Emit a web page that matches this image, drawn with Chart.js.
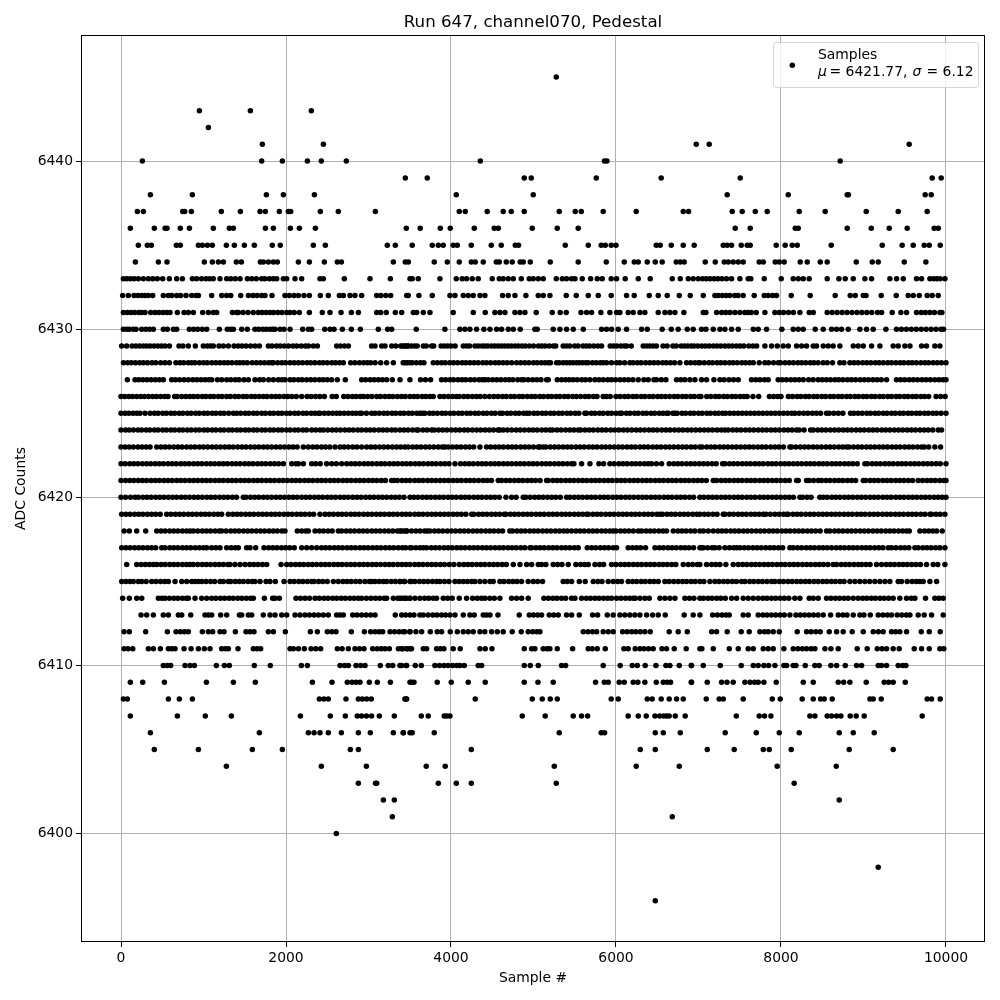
<!DOCTYPE html>
<html><head><meta charset="utf-8">
<script src="https://cdn.jsdelivr.net/npm/chart.js@4/dist/chart.umd.min.js"></script>
<style>html,body{margin:0;padding:0;background:#fff}canvas{display:block}</style>
</head><body><canvas id="c" width="1000" height="1000"></canvas>
<script>
const chartTitle="Run 647, channel070, Pedestal";
const xLabel="Sample #";
const yLabel="ADC Counts";
const seriesLabel="Samples";
const muText="6421.77";
const sigmaText="6.12";
const xTickValues=[0,2000,4000,6000,8000,10000];
const yTickValues=[6400,6410,6420,6430,6440];
const s6445=[5276];
const s6443=[950,1568,2307];
const s6442=[1059];
const s6441=[1713,2453,6973,7130,9554];
const s6440=[259,1705,1956,2259,2428,2731,4355,5860,5890,8718];
const s6439=[3446,3712,4888,4973,5761,6548,7506,9833,9942];
const s6438=[356,865,1762,1968,2344,4064,4997,7348,8088,8803,8818,9748,9821];
const s6437=[198,271,748,772,853,1216,1447,1685,1750,1919,2028,2057,2416,2634,3083,4100,4173,4439,4633,4730,4888,5312,5506,5579,5845,6245,6815,6880,7409,7530,7688,7833,8221,8536,9033,9421,9772];
const s6436=[113,404,534,558,719,829,1119,1313,1362,1750,1847,2053,2162,2356,3458,3627,3870,3991,4282,4524,4573,4985,5288,5542,7445,7627,8173,8209,8803,9094,9312,9530,9857,9906];
const s6435=[210,319,368,671,719,938,986,1047,1107,1277,1374,1495,1616,1834,1931,2331,2477,3228,3325,3530,3773,3846,3906,4027,4076,4246,4488,4609,4779,4819,5385,5664,5821,5870,5942,6000,6488,6536,6670,6815,6948,7300,7348,7401,7518,7591,7627,7942,8051,8136,8197,8609,9227,9469,9603,9736,9797,9930];
const s6434=[174,453,558,1010,1107,1180,1241,1398,1459,1689,1725,1786,1847,1895,2150,2283,2465,2622,2671,3301,3446,3483,3797,3955,4100,4246,4294,4391,4549,4585,4670,4742,4839,4876,4961,5203,5542,5882,6100,6221,6270,6379,6476,6560,6730,6779,6827,7082,7203,7312,7361,7421,7482,7542,7736,7785,7930,7979,8039,8233,8318,8476,8560,8912,9106,9179,9494,9756];
const s6433=[29,70,115,160,210,271,332,385,440,505,586,675,744,865,915,975,1030,1075,1119,1200,1281,1330,1385,1443,1531,1585,1640,1705,1745,1800,1847,1887,1968,2008,2109,2190,2412,2453,2707,3018,3265,3503,3530,3603,3866,4064,4136,4189,4258,4330,4500,4585,4633,4694,4755,4852,4949,4997,5058,5118,5276,5349,5401,5462,5502,5591,5692,5773,5833,5942,6007,6112,6270,6415,6682,6779,6876,6936,6997,7050,7095,7140,7190,7235,7285,7340,7401,7502,7603,7635,7797,8003,8148,8210,8270,8342,8560,8702,8779,8876,9017,9098,9320,9401,9482,9643,9704,9805,9850,9890,9930,9987];
const s6432=[20,89,158,205,250,291,332,384,513,574,614,675,723,788,857,909,938,1099,1220,1280,1330,1451,1544,1600,1650,1705,1745,1830,1988,2040,2097,2150,2218,2283,2416,2513,2647,2695,2776,2836,2917,3099,3150,3210,3269,3463,3482,3611,3773,3987,4048,4149,4209,4270,4351,4411,4625,4694,4775,4908,5058,5118,5199,5397,5518,5664,5785,5942,6128,6221,6403,6512,6621,6767,6900,7058,7199,7240,7290,7335,7380,7440,7480,7542,7676,7797,7846,7900,7946,8124,8354,8657,8839,8900,8997,9030,9215,9397,9542,9603,9676,9772,9833,9906];
const s6431=[29,75,120,165,215,250,291,360,412,460,510,555,594,683,764,816,877,990,1059,1119,1160,1350,1401,1422,1480,1540,1604,1665,1710,1760,1806,1847,1900,1950,2008,2049,2100,2162,2283,2440,2533,2667,2792,2877,3099,3148,3216,3325,3402,3543,3583,3664,3745,4027,4270,4415,4532,4593,4654,4775,4835,4896,5033,5227,5324,5397,5575,5643,5704,5817,5926,6007,6047,6148,6209,6290,6350,6512,6593,6653,6714,6823,7058,7090,7219,7280,7330,7381,7441,7500,7560,7600,7640,7700,7805,7926,7980,8030,8090,8150,8229,8342,8391,8560,8620,8680,8740,8800,8860,8920,8980,9040,9100,9170,9220,9348,9453,9522,9643,9700,9750,9805,9860,9926,9950];
const s6430=[29,69,101,150,182,251,300,345,392,513,562,635,675,828,880,930,985,1039,1192,1289,1330,1362,1463,1531,1624,1670,1720,1760,1806,1838,1867,1928,1975,2049,2202,2271,2311,2469,2533,2582,2683,2792,2901,3119,3232,3281,3579,3926,4108,4169,4229,4310,4399,4472,4553,4613,4694,4755,4839,5017,5045,5239,5320,5401,5482,5603,5825,5886,5946,6027,6128,6310,6379,6560,6670,6754,6864,6936,7037,7090,7179,7260,7320,7401,7482,7664,7724,7825,8011,8148,8209,8270,8415,8512,8613,8674,8734,8815,8956,9037,9118,9272,9400,9460,9520,9580,9640,9700,9760,9820,9880,9940,9970];
const s6429=[8,69,134,180,225,270,311,352,400,445,490,533,586,703,750,816,901,998,1045,1085,1119,1188,1240,1301,1370,1420,1465,1515,1570,1625,1677,1786,1830,1885,1930,1980,2030,2085,2130,2185,2235,2271,2331,2380,2614,2660,2710,2756,3038,3079,3160,3200,3281,3330,3390,3442,3475,3410,3445,3480,3520,3560,3590,3665,3700,3765,3790,3880,3920,3960,4000,4050,4149,4190,4225,4290,4330,4375,4410,4445,4490,4530,4570,4610,4650,4690,4730,4775,4815,4860,4900,4950,5000,5060,5100,5140,5190,5240,5270,5360,5400,5440,5500,5540,5600,5640,5680,5730,5780,5825,5930,5970,6010,6060,6100,6130,6185,6330,6370,6410,6450,6490,6570,6620,6690,6730,6790,6830,6870,6910,6945,6990,7040,7085,7130,7180,7225,7270,7320,7365,7410,7460,7505,7550,7610,7660,7705,7805,7886,7955,8027,8088,8189,8250,8310,8391,8431,8512,8573,8633,8714,8876,8936,8997,9098,9199,9360,9421,9502,9563,9704,9764,9865,9926];
const s6428=[30,80,125,175,225,270,320,375,420,480,533,586,665,715,760,815,857,897,950,1000,1045,1100,1150,1200,1250,1295,1345,1400,1440,1483,1530,1590,1640,1690,1740,1790,1826,1847,1900,1950,1995,2050,2100,2150,2200,2255,2300,2350,2405,2450,2500,2555,2600,2650,2695,2784,2835,2890,2940,2985,3026,3080,3148,3220,3301,3443,3503,3421,3470,3530,3580,3630,3672,3785,3835,3885,3930,3985,4030,4080,4135,4180,4230,4280,4330,4385,4430,4480,4535,4580,4630,4680,4735,4795,4845,4895,4945,5000,5045,5095,5140,5180,5207,5280,5312,5360,5401,5441,5480,5522,5555,5595,5635,5664,5715,5760,5810,5845,5886,5945,6007,6047,6105,6168,6209,6260,6305,6360,6410,6460,6510,6565,6610,6660,6710,6775,6855,6905,6957,7000,7017,7070,7125,7170,7225,7270,7320,7375,7420,7470,7525,7570,7620,7664,7736,7805,7850,7910,7966,7995,8050,8100,8150,8205,8250,8300,8355,8400,8450,8510,8560,8625,8714,8763,8835,8885,8935,8990,9040,9090,9145,9190,9240,9295,9340,9393,9445,9490,9545,9590,9640,9695,9745,9790,9845,9895,9945,10000];
const s6427=[77,170,215,265,315,365,415,465,513,614,660,710,764,816,870,920,970,1020,1065,1099,1168,1220,1281,1330,1385,1430,1490,1544,1624,1680,1725,1790,1847,1907,1950,1988,2049,2095,2150,2195,2250,2300,2350,2405,2450,2500,2553,2622,2719,2917,2965,3020,3070,3120,3170,3220,3289,3382,3502,3631,3690,3753,3886,3935,3987,4030,4085,4135,4180,4235,4285,4340,4380,4411,4452,4505,4555,4605,4660,4705,4750,4810,4856,4884,4935,4990,5040,5090,5159,5179,5288,5340,5389,5433,5480,5530,5585,5630,5684,5745,5795,5845,5900,5945,5995,6050,6100,6150,6205,6270,6338,6391,6460,6492,6550,6605,6734,6785,6835,6896,6957,7037,7098,7187,7260,7310,7370,7425,7482,7643,7695,7745,7800,7845,7966,8015,8065,8120,8170,8220,8270,8335,8390,8451,8500,8550,8600,8655,8700,8750,8805,8855,8905,8960,9010,9060,9115,9165,9215,9280,9400,9450,9500,9555,9605,9655,9710,9760,9810,9865,9915,9965,10000];
const s6426=[0,45,95,140,190,240,285,335,385,430,480,530,570,650,680,735,785,835,880,930,985,1030,1080,1125,1180,1225,1280,1325,1380,1425,1480,1525,1580,1625,1675,1725,1770,1825,1875,1920,1975,2020,2070,2125,2190,2255,2305,2360,2410,2465,2560,2610,2700,2750,2805,2850,2900,2940,2990,3040,3100,3145,3200,3250,3295,3350,3400,3445,3500,3550,3595,3650,3695,3745,3785,3866,3915,3970,4020,4065,4100,4155,4205,4260,4310,4355,4410,4465,4520,4570,4625,4670,4725,4770,4825,4870,4925,4975,5020,5075,5120,5175,5220,5275,5320,5375,5420,5475,5520,5570,5625,5670,5725,5770,5845,5886,5930,6000,6050,6105,6150,6205,6250,6305,6350,6405,6450,6505,6550,6600,6650,6705,6750,6805,6850,6905,6950,7005,7030,7100,7150,7205,7250,7305,7350,7405,7450,7505,7550,7590,7660,7730,7860,7910,7960,8000,8090,8140,8195,8240,8295,8340,8395,8440,8495,8540,8595,8640,8695,8740,8795,8840,8895,8940,8995,9040,9095,9140,9195,9240,9295,9340,9395,9440,9495,9540,9595,9640,9695,9740,9790,9880,9935,9990];
const s6425=[0,50,95,145,190,230,291,352,405,450,505,550,605,650,705,750,805,850,905,950,1005,1050,1105,1150,1205,1250,1305,1362,1402,1450,1505,1550,1605,1650,1705,1750,1805,1850,1905,1950,2005,2050,2105,2150,2205,2250,2305,2350,2392,2412,2465,2515,2565,2614,2655,2705,2755,2805,2850,2897,2917,2975,3038,3079,3130,3185,3230,3285,3330,3385,3430,3485,3530,3585,3623,3656,3684,3740,3785,3835,3890,3935,3990,4035,4090,4135,4190,4235,4290,4335,4390,4435,4490,4535,4593,4625,4680,4725,4780,4825,4880,4917,4949,5005,5050,5105,5150,5205,5250,5305,5350,5405,5450,5505,5550,5623,5643,5700,5745,5800,5845,5900,5945,6000,6047,6068,6125,6170,6225,6270,6325,6370,6425,6470,6525,6570,6613,6633,6690,6714,6742,6800,6845,6900,6945,7000,7045,7100,7145,7200,7245,7292,7330,7380,7430,7480,7530,7580,7630,7680,7730,7780,7830,7880,7930,7980,8030,8080,8130,8168,8221,8275,8325,8380,8430,8480,8552,8585,8640,8695,8750,8843,8884,8935,8985,9040,9085,9140,9185,9240,9285,9340,9385,9440,9485,9540,9585,9640,9685,9740,9785,9840,9885,9940,10000];
const s6424=[0,55,100,150,205,250,305,350,405,450,505,550,605,650,705,750,805,850,905,950,1005,1050,1105,1150,1205,1250,1305,1350,1405,1450,1505,1550,1605,1650,1705,1750,1805,1850,1905,1950,2005,2050,2105,2150,2205,2250,2311,2360,2412,2453,2505,2560,2610,2660,2715,2765,2815,2870,2915,2970,3020,3070,3125,3175,3225,3280,3325,3380,3430,3480,3535,3583,3603,3660,3710,3765,3797,3850,3900,3950,4005,4055,4105,4160,4205,4260,4310,4360,4415,4465,4515,4570,4593,4633,4685,4735,4790,4840,4890,4945,4995,5045,5100,5150,5199,5231,5285,5335,5390,5440,5490,5542,5571,5625,5675,5725,5780,5830,5880,5935,5985,6035,6090,6140,6190,6245,6295,6345,6400,6450,6500,6555,6605,6655,6710,6760,6810,6865,6915,6965,7017,7070,7120,7170,7225,7275,7320,7361,7415,7465,7515,7570,7620,7670,7725,7775,7825,7880,7930,7980,8035,8085,8135,8189,8221,8280,8359,8391,8445,8495,8545,8600,8650,8700,8755,8805,8855,8910,8960,9010,9065,9115,9165,9220,9270,9320,9375,9425,9475,9530,9580,9630,9685,9735,9785,9840,9906,9946];
const s6423=[0,50,100,150,205,255,305,352,433,485,535,585,640,690,740,795,845,895,950,1000,1050,1105,1155,1205,1260,1310,1360,1415,1465,1515,1570,1620,1670,1725,1775,1825,1880,1930,1980,2035,2085,2135,2210,2271,2325,2375,2430,2480,2530,2594,2655,2705,2755,2810,2860,2917,2978,3030,3080,3135,3185,3235,3290,3340,3390,3441,3482,3535,3585,3635,3690,3740,3790,3845,3895,3926,3967,4020,4070,4120,4175,4225,4275,4351,4431,4480,4535,4585,4635,4690,4740,4790,4845,4895,4945,5000,5058,5078,5118,5151,5205,5255,5305,5360,5410,5460,5515,5565,5615,5670,5720,5770,5825,5875,5925,5980,6030,6080,6135,6185,6235,6290,6340,6390,6445,6495,6545,6600,6650,6700,6755,6805,6855,6910,6960,7017,7045,7100,7150,7200,7255,7305,7355,7410,7460,7510,7565,7615,7665,7720,7770,7820,7875,7925,7975,8030,8108,8128,8180,8235,8285,8335,8390,8440,8490,8545,8595,8645,8700,8750,8795,8827,8880,8930,8980,9035,9085,9135,9190,9240,9290,9345,9395,9445,9500,9550,9600,9655,9704,9736,9790,9865,9934];
const s6422=[0,50,105,155,205,260,310,360,415,465,515,570,620,670,725,775,825,880,930,980,1035,1085,1135,1190,1240,1290,1345,1395,1445,1500,1550,1600,1655,1705,1755,1810,1860,1910,1968,2069,2120,2150,2210,2311,2360,2415,2493,2554,2610,2675,2736,2790,2840,2890,2945,2995,3045,3100,3150,3200,3255,3305,3355,3410,3460,3510,3565,3615,3665,3720,3770,3820,3875,3925,3975,4048,4116,4170,4220,4270,4325,4375,4425,4480,4530,4580,4635,4685,4735,4790,4840,4890,4945,4995,5045,5100,5150,5200,5255,5305,5355,5410,5462,5490,5583,5684,5793,5850,5926,5979,6035,6085,6135,6190,6240,6290,6345,6391,6431,6490,6553,6645,6700,6750,6800,6855,6905,6955,7010,7060,7110,7165,7215,7292,7320,7375,7425,7475,7530,7580,7630,7685,7735,7785,7840,7890,7940,7995,8045,8095,8150,8200,8250,8305,8355,8405,8460,8510,8560,8615,8665,8715,8770,8820,8870,8925,9017,9049,9105,9155,9205,9260,9310,9360,9415,9465,9515,9570,9620,9670,9725,9775,9825,9880,9930,10000];
const s6421=[0,55,105,155,210,260,310,365,415,465,520,570,620,675,725,775,830,880,930,985,1035,1085,1140,1190,1240,1295,1345,1395,1450,1500,1550,1605,1655,1705,1760,1810,1860,1915,1965,2015,2070,2120,2170,2225,2275,2325,2380,2430,2480,2535,2585,2635,2690,2740,2790,2845,2895,2945,3000,3050,3100,3155,3205,3280,3310,3350,3405,3455,3503,3560,3610,3660,3715,3765,3815,3870,3920,3970,4025,4075,4125,4180,4230,4280,4335,4391,4439,4490,4573,4613,4665,4715,4770,4820,4870,4925,4975,5025,5080,5159,5179,5235,5285,5335,5390,5440,5490,5545,5595,5645,5700,5750,5800,5855,5905,5955,6010,6060,6110,6165,6215,6265,6320,6370,6420,6475,6525,6575,6630,6680,6730,6785,6835,6885,6940,6990,7040,7095,7179,7219,7275,7325,7375,7430,7480,7530,7585,7635,7685,7740,7790,7840,7895,7945,7995,8050,8100,8189,8209,8310,8342,8395,8451,8492,8545,8595,8650,8700,8750,8805,8855,8905,8997,9025,9080,9130,9180,9235,9285,9335,9390,9440,9490,9545,9595,9663,9716,9770,9820,9870,9925,9975,10000];
const s6420=[0,55,115,170,210,265,315,365,420,470,520,575,625,675,730,780,830,885,935,985,1040,1090,1140,1195,1245,1295,1350,1400,1483,1515,1570,1620,1670,1725,1775,1825,1880,1930,1980,2035,2085,2135,2190,2240,2290,2345,2395,2445,2500,2550,2600,2655,2705,2755,2810,2860,2910,2965,3015,3065,3120,3170,3220,3275,3325,3375,3430,3503,3550,3600,3655,3705,3755,3810,3860,3910,3965,4015,4065,4120,4170,4220,4275,4325,4375,4430,4480,4530,4585,4666,4734,4790,4876,4908,4960,5015,5065,5115,5170,5220,5270,5325,5401,5441,5495,5545,5595,5650,5700,5750,5805,5855,5905,5960,6010,6060,6115,6165,6215,6270,6320,6370,6425,6475,6525,6580,6630,6680,6735,6785,6835,6890,6940,7017,7065,7120,7170,7220,7275,7325,7375,7430,7480,7530,7585,7635,7685,7740,7790,7840,7895,7945,7995,8050,8100,8150,8229,8261,8315,8365,8471,8512,8560,8615,8665,8715,8770,8820,8870,8925,8975,9025,9080,9130,9180,9235,9285,9335,9390,9440,9490,9545,9595,9645,9700,9750,9800,9855,9905,9955,10000];
const s6419=[8,60,110,165,215,265,320,370,420,475,553,606,660,710,760,815,865,915,970,1020,1070,1125,1175,1220,1301,1355,1405,1455,1510,1560,1610,1665,1715,1765,1820,1870,1920,1975,2025,2075,2130,2180,2230,2285,2335,2412,2473,2525,2575,2630,2680,2730,2785,2835,2885,2940,2990,3040,3095,3145,3195,3250,3300,3350,3405,3455,3503,3560,3610,3660,3715,3765,3815,3870,3920,3970,4025,4075,4125,4180,4250,4278,4335,4385,4435,4490,4540,4590,4646,4666,4720,4770,4820,4875,4925,4975,5030,5080,5130,5185,5235,5285,5340,5390,5440,5495,5545,5595,5643,5664,5720,5770,5820,5875,5925,5975,6030,6080,6130,6185,6235,6285,6340,6390,6440,6495,6532,6564,6620,6670,6720,6775,6825,6875,6930,6980,7017,7070,7120,7175,7225,7300,7320,7375,7425,7480,7530,7580,7635,7685,7735,7785,7817,7870,7926,7979,8030,8068,8088,8145,8195,8245,8300,8350,8400,8455,8505,8555,8610,8660,8710,8765,8815,8865,8920,8970,9020,9075,9125,9175,9230,9280,9330,9385,9435,9485,9540,9590,9640,9695,9745,9805,9825,9880,9930,9987];
const s6418=[38,101,190,299,433,485,535,590,640,690,745,795,837,877,930,985,1035,1085,1140,1190,1220,1273,1330,1380,1430,1485,1535,1585,1640,1690,1740,1795,1845,1895,1950,1988,2137,2190,2240,2271,2352,2405,2455,2510,2560,2634,2675,2730,2780,2830,2885,2935,2985,3040,3090,3140,3195,3245,3295,3350,3400,3463,3381,3430,3462,3522,3575,3625,3680,3712,3745,3800,3850,3900,3955,4005,4055,4110,4160,4210,4265,4315,4365,4420,4470,4520,4575,4625,4714,4746,4800,4850,4900,4955,5005,5055,5110,5160,5210,5265,5315,5365,5409,5462,5515,5565,5615,5670,5720,5770,5825,5875,5926,5966,5999,6055,6105,6155,6210,6270,6310,6365,6415,6465,6520,6570,6613,6694,6750,6800,6850,6905,6955,7017,7060,7118,7179,7235,7285,7335,7390,7440,7490,7545,7595,7645,7700,7750,7800,7855,7905,7955,8010,8060,8110,8165,8215,8265,8320,8370,8420,8475,8552,8593,8650,8700,8750,8805,8855,8905,8960,9010,9060,9115,9165,9215,9270,9320,9370,9425,9475,9522,9555,9684,9740,9790,9840,9886,9954];
const s6417=[8,60,110,165,215,265,320,370,420,493,533,590,640,690,745,796,845,900,950,1000,1039,1099,1150,1200,1281,1335,1385,1422,1523,1564,1632,1733,1790,1840,1890,1945,1995,2045,2100,2190,2251,2311,2372,2430,2480,2530,2585,2635,2685,2740,2790,2840,2895,2945,2995,3050,3100,3150,3205,3255,3305,3360,3410,3450,3503,3522,3575,3625,3664,3704,3760,3810,3860,3915,3965,4015,4070,4120,4170,4225,4275,4325,4380,4430,4480,4535,4585,4635,4690,4740,4790,4845,4895,4957,4977,5030,5080,5130,5185,5235,5285,5340,5390,5440,5495,5542,5652,5705,5755,5810,5860,5910,5966,6007,6148,6200,6250,6298,6358,6472,6525,6575,6630,6680,6730,6785,6835,6885,6940,7017,7037,7058,7110,7165,7199,7251,7320,7375,7425,7462,7502,7555,7605,7660,7710,7760,7815,7865,7915,7970,8020,8108,8148,8200,8250,8305,8355,8405,8460,8510,8560,8613,8670,8720,8770,8825,8875,8925,8980,9030,9080,9135,9185,9235,9300,9340,9393,9450,9500,9550,9623,9663,9720,9770,9820,9875,9925,9987];
const s6416=[69,190,245,295,345,392,433,485,535,590,640,690,745,795,837,877,930,985,1035,1085,1140,1190,1240,1295,1322,1382,1443,1503,1560,1610,1660,1715,1766,1940,2008,2060,2115,2165,2215,2270,2320,2370,2425,2475,2525,2580,2630,2680,2735,2785,2835,2890,2940,2990,3045,3095,3145,3200,3250,3300,3355,3405,3455,3503,3560,3610,3660,3715,3765,3815,3870,3920,3979,4035,4100,4155,4205,4255,4310,4360,4410,4465,4515,4565,4620,4670,4755,4836,4917,4977,5058,5098,5150,5239,5292,5345,5421,5514,5570,5620,5664,5745,5800,5850,5946,5999,6055,6105,6155,6210,6260,6310,6365,6415,6465,6520,6570,6620,6675,6725,6815,6876,6930,6985,7017,7098,7159,7210,7260,7332,7421,7482,7535,7585,7640,7690,7740,7795,7845,7895,7950,8000,8050,8105,8155,8205,8260,8310,8360,8415,8465,8515,8570,8633,8674,8730,8780,8830,8885,8936,8977,9030,9080,9158,9219,9275,9325,9375,9430,9480,9530,9583,9635,9690,9764,9845,9900,9987];
const s6415=[8,60,109,150,210,251,305,372,425,480,530,574,655,736,796,857,900,938,978,1030,1085,1135,1200,1241,1301,1330,1385,1435,1483,1540,1590,1624,1685,1758,1806,1871,1976,2049,2100,2155,2205,2260,2311,2340,2395,2445,2500,2574,2634,2690,2740,2790,2845,2897,2957,3010,3038,3079,3130,3180,3220,3275,3325,3380,3430,3503,3381,3440,3522,3563,3620,3670,3720,3775,3825,3866,3920,3975,4048,4100,4150,4200,4250,4290,4350,4410,4472,4512,4593,4642,4700,4750,4800,4855,4936,4997,5050,5110,5360,5410,5462,5555,5627,5724,5780,5830,5906,5966,6020,6067,6148,6200,6250,6305,6355,6410,6460,6512,6593,6645,6700,6754,6807,6855,6910,6960,7017,7065,7138,7199,7250,7305,7355,7410,7460,7522,7563,7620,7670,7725,7775,7830,7886,7926,7980,8030,8085,8135,8190,8240,8295,8345,8400,8450,8505,8555,8610,8660,8715,8765,8835,8896,8956,9017,9075,9138,9199,9260,9320,9421,9461,9530,9590,9640,9684,9724,9805,9886];
const s6414=[20,101,190,251,453,495,533,586,640,690,745,790,816,897,978,1039,1099,1150,1205,1255,1310,1360,1415,1465,1520,1570,1604,1738,1838,1867,1919,2121,2175,2230,2285,2352,2404,2460,2510,2565,2615,2670,2720,2775,2825,2877,2917,2975,3030,3085,3135,3190,3220,3301,3355,3410,3460,3503,3381,3440,3500,3563,3623,3680,3730,3785,3825,3906,3960,4015,4100,4189,4262,4320,4371,4411,4470,4525,4593,4734,4795,4856,4936,5126,5180,5235,5285,5340,5390,5462,5502,5583,5640,5690,5745,5795,5850,5900,5946,6007,6060,6115,6165,6209,6233,6290,6350,6403,6532,6593,6653,6714,6835,6890,6945,7017,7060,7115,7165,7220,7270,7325,7401,7462,7542,7603,7664,7724,7780,7830,7885,7935,7990,8040,8095,8168,8229,8342,8391,8451,8552,8605,8660,8710,8765,8815,8876,8936,8990,9040,9095,9145,9200,9250,9305,9360,9441,9522,9580,9623,9752,9865,9915,9966];
const s6413=[243,311,392,513,574,695,736,845,1018,1060,1099,1208,1281,1435,1463,1544,1584,1725,1806,1867,1948,2008,2109,2170,2230,2285,2340,2395,2453,2513,2614,2655,2695,2808,2860,2915,2970,3025,3079,3325,3402,3450,3503,3551,3623,3664,3724,3780,3830,3885,3935,3987,4048,4149,4229,4282,4391,4430,4472,4569,4827,4949,5000,5050,5098,5191,5245,5300,5401,5462,5555,5716,5777,5894,5966,6047,6108,6168,6229,6290,6371,6443,6512,6597,6827,6936,7017,7171,7230,7285,7335,7373,7542,7603,7724,7780,7830,7885,7935,7990,8040,8108,8181,8235,8285,8340,8395,8450,8512,8601,8694,8750,8800,8876,8956,9005,9082,9179,9235,9290,9340,9409,9465,9520,9563,9663,9736,9825,9966];
const s6412=[37,101,299,562,667,720,770,816,986,1059,1111,1200,1249,1386,1515,1565,1612,1786,1847,1992,2295,2380,2501,2555,2606,2792,2950,3026,3080,3130,3172,3261,3315,3370,3420,3503,3440,3502,3575,3644,3749,3833,3886,3991,4076,4149,4209,4270,4351,4410,4492,4561,4633,4742,4852,4936,4990,5040,5078,5603,5660,5715,5765,5845,5906,5966,6080,6135,6190,6240,6295,6350,6415,6645,6754,6864,7159,7219,7348,7518,7615,7744,7800,7845,7906,7979,8197,8310,8365,8423,8476,8585,8674,8754,8863,8997,9118,9180,9239,9340,9390,9441,9522,9700,9797,9930];
const s6411=[37,85,142,332,392,477,574,615,655,764,849,938,1010,1079,1220,1265,1301,1418,1604,1650,1693,2049,2089,2150,2222,2303,2360,2420,2622,2680,2756,2836,2890,2945,3050,3105,3155,3200,3253,3362,3415,3470,3503,3401,3460,3522,3664,3704,3825,3870,3914,4027,4112,4351,4415,4496,4888,4977,5017,5118,5165,5199,5288,5474,5664,5712,5773,5870,6096,6148,6233,6290,6340,6395,6451,6557,6613,6706,6851,7017,7041,7179,7373,7482,7603,7664,7785,7845,7906,8035,8148,8205,8260,8310,8365,8411,8532,8605,8694,8924,9045,9167,9225,9280,9360,9433,9615,9704,9797,9926,9974];
const s6410=[513,560,602,776,837,889,1156,1253,1313,1616,1810,2186,2259,2655,2710,2756,2849,2905,2958,3143,3240,3293,3382,3455,3401,3462,3567,3640,3805,3860,3915,3965,4020,4070,4108,4161,4330,4371,4888,4961,5058,5340,5389,5845,6051,6197,6258,6354,6484,6605,6653,6767,6912,6916,7058,7264,7518,7664,7724,7793,7850,7926,8035,8068,8148,8181,8294,8411,8463,8605,8674,8779,8916,8977,9179,9219,9280,9421,9475,9514];
const s6409=[113,263,526,1035,1362,1628,2320,2558,2743,2800,2850,2897,3010,3107,3265,3503,3522,3551,3833,4003,4209,4415,4888,5054,5239,5752,5858,5906,6039,6100,6209,6265,6350,6488,6573,6620,6662,6912,6916,7106,7280,7345,7421,7563,7625,7680,7724,7793,7942,8270,8391,8694,8760,8835,9033,9251,9305,9360,9506];
const s6408=[29,77,574,707,865,2404,2460,2513,2727,2877,2925,2978,3034,3455,3441,3462,4294,4985,5106,5203,5288,5942,6027,6379,6439,6548,6645,6734,6815,7094,7251,7300,7542,7894,7991,8257,8391,8480,8524,8621,9078,9118,9215,9772,9825,9930];
const s6407=[113,683,1022,1338,2174,2537,2719,2864,2915,2975,3038,3131,3313,3640,3724,3918,3950,3987,4864,5142,5482,5583,5656,6148,6270,6367,6472,6530,6575,6613,6645,6718,6839,7458,7736,7800,7878,8350,8411,8560,8613,8674,8726,8839,8912,9009,9712];
const s6406=[356,1677,2271,2340,2412,2513,2671,2877,3022,3301,3422,3503,3421,3530,3797,5312,5821,5862,6476,6573,6779,7324,7700,7979,8221,8706,8876,9130];
const s6405=[404,938,1592,1956,2780,2877,4246,6294,6476,7106,7433,7785,7858,8124,8827,9360];
const s6404=[1277,2428,2974,3700,3930,5252,6245,6767,7954,8670];
const s6403=[2877,3085,3100,3846,4064,4246,5276,8160];
const s6402=[3180,3313,8706];
const s6401=[3289,6682];
const s6400=[2610];
const s6398=[9179];
const s6396=[6476];

const adcLevels=[6445,6443,6442,6441,6440,6439,6438,6437,6436,6435,6434,6433,6432,6431,6430,6429,6428,6427,6426,6425,6424,6423,6422,6421,6420,6419,6418,6417,6416,6415,6414,6413,6412,6411,6410,6409,6408,6407,6406,6405,6404,6403,6402,6401,6400,6398,6396];
const sampleRows=[s6445,s6443,s6442,s6441,s6440,s6439,s6438,s6437,s6436,s6435,s6434,s6433,s6432,s6431,s6430,s6429,s6428,s6427,s6426,s6425,s6424,s6423,s6422,s6421,s6420,s6419,s6418,s6417,s6416,s6415,s6414,s6413,s6412,s6411,s6410,s6409,s6408,s6407,s6406,s6405,s6404,s6403,s6402,s6401,s6400,s6398,s6396];
const points=[];
adcLevels.forEach((lv,i)=>sampleRows[i].forEach(x=>points.push({x:x,y:lv})));

const FONT='"DejaVu Sans"';
const frameAndLegend={
  id:'frameAndLegend',
  afterDatasetsDraw(chart){
    const ctx=chart.ctx,a=chart.chartArea;
    ctx.save();
    ctx.strokeStyle='#000';ctx.lineWidth=1;
    ctx.strokeRect(a.left+0.5,a.top+0.5,a.right-a.left-1,a.bottom-a.top-1);
    ctx.beginPath();
    ctx.roundRect(773.5,42.5,205,45,3);
    ctx.fillStyle='rgba(255,255,255,0.8)';ctx.fill();
    ctx.strokeStyle='rgba(204,204,204,0.8)';ctx.lineWidth=1;ctx.stroke();
    ctx.fillStyle='#000';
    ctx.beginPath();ctx.arc(792.3,65.3,2.75,0,Math.PI*2);ctx.fill();
    ctx.textBaseline='alphabetic';ctx.textAlign='left';
    const rm='13.9px '+FONT,it='italic 13.9px '+FONT;
    ctx.font=rm;ctx.fillText(seriesLabel,818,59);
    const y=76;
    ctx.font=it;ctx.fillText('μ',818,y);
    ctx.font=rm;ctx.fillText('= '+muText+',',829.5,y);
    ctx.font=it;ctx.fillText('σ',912.5,y);
    ctx.font=rm;ctx.fillText('= '+sigmaText,926.5,y);
    ctx.restore();
  }
};
const useTicks=vals=>s=>{s.ticks=vals.map(v=>({value:v}));};
new Chart(document.getElementById('c'),{
  type:'scatter',
  data:{datasets:[{label:seriesLabel,data:points,showLine:false,backgroundColor:'#000',borderWidth:0,pointRadius:2.75,pointHoverRadius:2.75}]},
  plugins:[frameAndLegend],
  options:{
    responsive:false,animation:false,
    layout:{padding:{left:0,right:15,top:0,bottom:0}},
    plugins:{
      legend:{display:false},tooltip:{enabled:false},
      title:{display:true,text:chartTitle,color:'#000',fullSize:false,font:{family:FONT,size:16.67,weight:'normal',lineHeight:1},padding:{top:14,bottom:4.33}}
    },
    scales:{
      x:{type:'linear',min:-485,max:10473,
        afterBuildTicks:useTicks(xTickValues),
        afterFit(s){s.height=58;},
        border:{display:false},
        grid:{color:'#b0b0b0',lineWidth:1,tickColor:'#000',tickLength:5,drawTicks:true},
        ticks:{autoSkip:false,maxRotation:0,color:'#000',padding:3,font:{family:FONT,size:13.9},callback:v=>String(v)},
        title:{display:true,text:xLabel,color:'#000',font:{family:FONT,size:13.9,lineHeight:1},padding:{top:4,bottom:15}}
      },
      y:{type:'linear',min:6393.55,max:6447.5,
        afterBuildTicks:useTicks(yTickValues),
        afterFit(s){s.width=81;},
        border:{display:false},
        grid:{color:'#b0b0b0',lineWidth:1,tickColor:'#000',tickLength:5,drawTicks:true},
        ticks:{autoSkip:false,color:'#000',padding:3,font:{family:FONT,size:13.9},callback:v=>String(v)},
        title:{display:true,text:yLabel,color:'#000',font:{family:FONT,size:13.9,lineHeight:1},padding:{top:14,bottom:4}}
      }
    }
  }
});
</script></body></html>
